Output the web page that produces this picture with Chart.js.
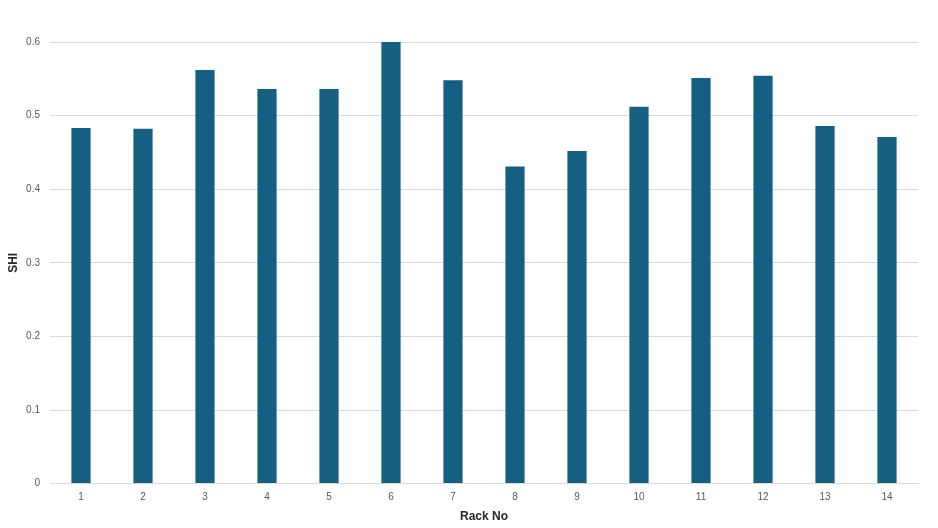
<!DOCTYPE html>
<html>
<head>
<meta charset="utf-8">
<script src="https://cdn.jsdelivr.net/npm/chart.js@4.4.1/dist/chart.umd.min.js"></script>
<style>
  html, body { margin: 0; padding: 0; background: #ffffff; }
  #wrap { width: 938px; height: 528px; }
</style>
</head>
<body>
<div id="wrap"><canvas id="shiChart" width="938" height="528"></canvas></div>
<script>
// Rack numbers and their SHI values
const rackLabels = ['1', '2', '3', '4', '5', '6', '7', '8', '9', '10', '11', '12', '13', '14'];
const shiValues = [0.483, 0.482, 0.562, 0.536, 0.536, 0.600, 0.548, 0.431, 0.452, 0.512, 0.551, 0.554, 0.486, 0.471];
const yTicks = [0, 0.1, 0.2, 0.3, 0.4, 0.5, 0.6];

const ctx = document.getElementById('shiChart');

new Chart(ctx, {
  type: 'bar',
  data: {
    labels: rackLabels,
    datasets: [{
      label: 'SHI',
      data: shiValues,
      backgroundColor: '#155f82',
      borderWidth: 0,
      barPercentage: 0.31,
      categoryPercentage: 1.0
    }]
  },
  options: {
    responsive: false,
    animation: false,
    layout: { padding: { top: 42, right: 20, bottom: 0, left: 6 } },
    plugins: {
      legend: { display: false },
      tooltip: { enabled: false }
    },
    scales: {
      x: {
        grid: { display: false, drawBorder: false },
        border: { color: '#d9d9d9', width: 1 },
        ticks: { color: '#595959', font: { family: 'Liberation Sans', size: 10 }, padding: 0 },
        title: {
          display: true,
          text: 'Rack No',
          color: '#262626',
          font: { family: 'Liberation Sans', size: 12, weight: 'bold' },
          padding: { top: 6, bottom: 4 }
        }
      },
      y: {
        min: 0,
        max: 0.6,
        afterBuildTicks: (axis) => { axis.ticks = yTicks.map(v => ({ value: v })); },
        afterFit: (axis) => { axis.width = 44; }, // keep the plot starting at x=50
        grid: { color: '#d9d9d9', lineWidth: 1, drawTicks: false },
        border: { display: false },
        ticks: {
          color: '#595959',
          font: { family: 'Liberation Sans', size: 10 },
          padding: 10,
          callback: (v) => v === 0 ? '0' : v.toFixed(1)
        },
        title: {
          display: true,
          text: 'SHI',
          color: '#262626',
          font: { family: 'Liberation Sans', size: 12, weight: 'bold' },
          padding: { top: 0, bottom: 0 }
        }
      }
    }
  }
});
</script>
</body>
</html>
